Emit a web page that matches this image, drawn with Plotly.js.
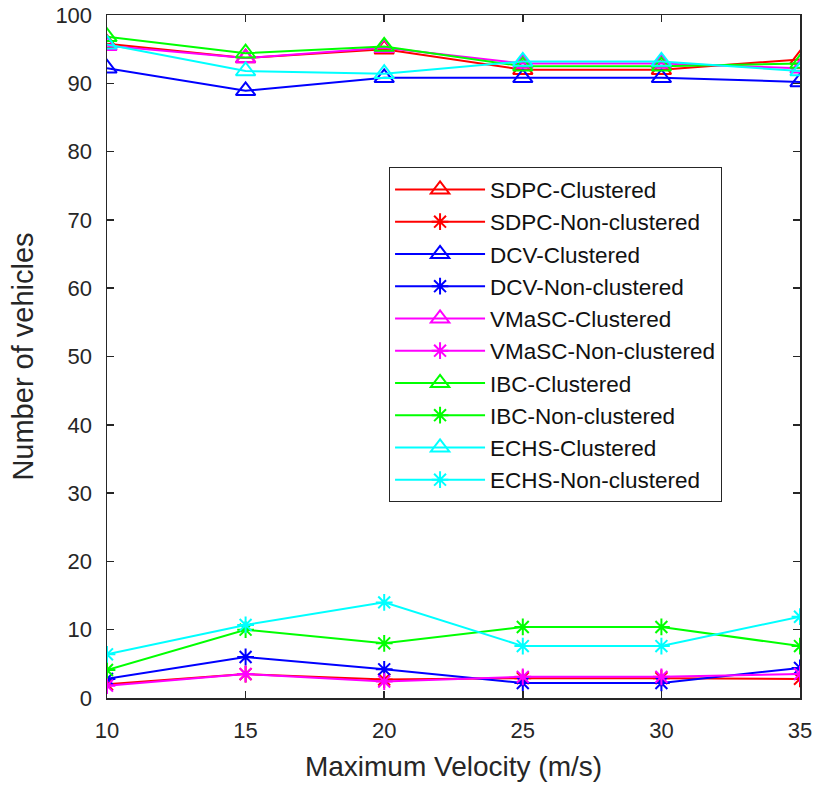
<!DOCTYPE html>
<html><head><meta charset="utf-8">
<script src="https://cdn.plot.ly/plotly-3.0.1.min.js"></script>
<style>body{margin:0;background:#fff}#chart{width:816px;height:787px}</style>
</head><body><div id="chart"></div>
<script>
const velocity = [10, 15, 20, 25, 30, 35];
const sdpcClustered    = [95.8, 93.7, 95.0, 92.0, 92.0, 93.5];
const sdpcNonClustered = [2.0, 3.5, 2.7, 2.9, 2.9, 2.8];
const dcvClustered     = [92.2, 88.9, 90.8, 90.8, 90.8, 90.2];
const dcvNonClustered  = [2.8, 6.0, 4.2, 2.2, 2.2, 4.4];
const vmascClustered   = [95.5, 93.7, 95.2, 92.9, 92.9, 92.2];
const vmascNonClustered= [1.8, 3.5, 2.4, 3.1, 3.1, 3.5];
const ibcClustered     = [96.8, 94.4, 95.4, 92.5, 92.5, 92.9];
const ibcNonClustered  = [4.1, 10.0, 8.0, 10.4, 10.4, 7.6];
const echsClustered    = [95.7, 91.8, 91.4, 93.2, 93.2, 91.8];
const echsNonClustered = [6.4, 10.7, 14.0, 7.6, 7.6, 11.9];
const seriesNames = ['SDPC-Clustered','SDPC-Non-clustered','DCV-Clustered','DCV-Non-clustered',
  'VMaSC-Clustered','VMaSC-Non-clustered','IBC-Clustered','IBC-Non-clustered','ECHS-Clustered','ECHS-Non-clustered'];
const seriesData = [sdpcClustered, sdpcNonClustered, dcvClustered, dcvNonClustered,
  vmascClustered, vmascNonClustered, ibcClustered, ibcNonClustered, echsClustered, echsNonClustered];
const colors = ['#ff0000','#ff0000','#0000ff','#0000ff','#ff00ff','#ff00ff','#00ff00','#00ff00','#00ffff','#00ffff'];

const traces = seriesData.map((ys, i) => {
  const clustered = i % 2 === 0;
  return {
    x: velocity, y: ys, name: seriesNames[i], type: 'scatter', mode: 'lines+markers',
    line: {color: colors[i], width: 2},
    marker: clustered
      ? {symbol: 'triangle-up-open', size: 17, color: colors[i], line: {color: colors[i], width: 2}}
      : {symbol: 'asterisk-open', size: 14, color: colors[i], line: {color: colors[i], width: 2}}
  };
});

const fontFam = 'Arial, Liberation Sans, sans-serif';
const axisCommon = {
  showline: true, linecolor: '#262626', linewidth: 1.5, mirror: 'ticks',
  ticks: 'inside', ticklen: 7, tickwidth: 1.5, tickcolor: '#262626',
  showgrid: false, zeroline: false,
  tickfont: {family: fontFam, size: 22, color: '#262626'}
};

const layout = {
  width: 816, height: 787,
  margin: {l: 107, r: 16, t: 15, b: 89},
  paper_bgcolor: '#fff', plot_bgcolor: '#fff',
  font: {family: fontFam, color: '#262626'},
  xaxis: Object.assign({}, axisCommon, {
    range: [10, 35], dtick: 5, tick0: 10, ticklabelstandoff: 12,
    title: {text: 'Maximum Velocity (m/s)', font: {size: 28, color: '#262626'}, standoff: 14}
  }),
  yaxis: Object.assign({}, axisCommon, {
    range: [0, 100], dtick: 10, tick0: 0, ticklabelstandoff: 9,
    title: {text: 'Number of vehicles', font: {size: 29, color: '#262626'}, standoff: 13}
  }),
  showlegend: true,
  legend: {
    x: 0.407, y: 0.777, xanchor: 'left', yanchor: 'top',
    bgcolor: '#fff', bordercolor: '#262626', borderwidth: 1,
    font: {family: fontFam, size: 22.5, color: '#111'}, itemwidth: 90,
    traceorder: 'normal'
  }
};

Plotly.newPlot('chart', traces, layout, {displayModeBar: false, staticPlot: true});
</script></body></html>
